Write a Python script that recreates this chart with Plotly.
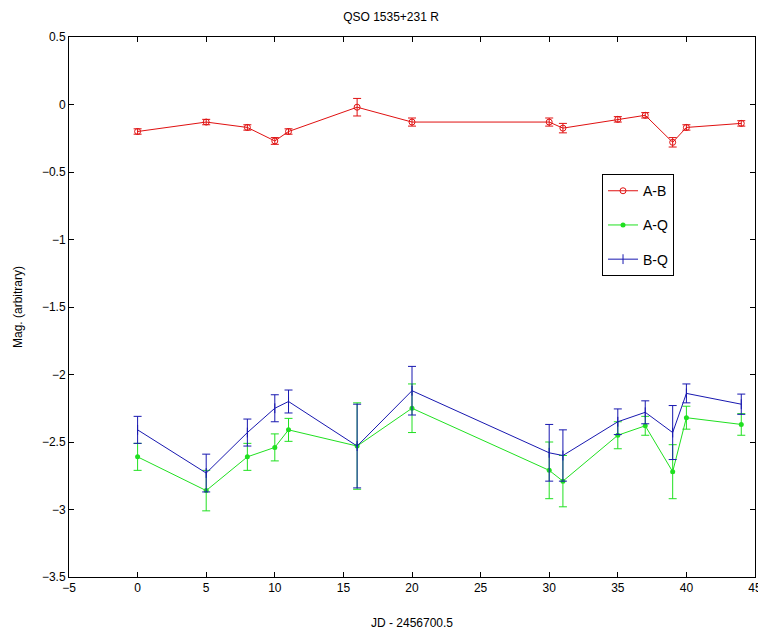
import plotly.graph_objects as go

jd = [0, 5, 8, 10, 11, 16, 20, 30, 31, 35, 37, 39, 40, 44]

ab = [-0.20, -0.13, -0.17, -0.27, -0.20, -0.02, -0.13, -0.13, -0.175, -0.11, -0.08, -0.28, -0.17, -0.14]
ab_err = [0.02, 0.02, 0.02, 0.025, 0.02, 0.065, 0.03, 0.03, 0.035, 0.02, 0.02, 0.035, 0.02, 0.02]

aq = [-2.61, -2.86, -2.61, -2.54, -2.41, -2.53, -2.25, -2.71, -2.79, -2.45, -2.38, -2.72, -2.32, -2.37]
aq_err = [0.10, 0.15, 0.10, 0.10, 0.085, 0.32, 0.18, 0.21, 0.19, 0.10, 0.07, 0.20, 0.085, 0.08]

bq = [-2.41, -2.73, -2.43, -2.25, -2.20, -2.53, -2.12, -2.58, -2.60, -2.35, -2.28, -2.43, -2.14, -2.22]
bq_err = [0.10, 0.14, 0.10, 0.10, 0.085, 0.31, 0.18, 0.21, 0.19, 0.095, 0.085, 0.20, 0.07, 0.075]

RED = "#e01010"
GREEN = "#20e020"
BLUE = "#1818b0"
FONT = "Liberation Sans, Arial, sans-serif"

fig = go.Figure()
fig.add_trace(go.Scatter(
    x=jd, y=ab, name="A-B", mode="lines+markers", legendgroup="ab",
    line=dict(color=RED, width=1),
    marker=dict(symbol="circle-open", size=6, color=RED, line=dict(width=1)),
    error_y=dict(type="data", array=ab_err, visible=True, color=RED, thickness=1, width=4),
))
fig.add_trace(go.Scatter(
    x=jd, y=aq, name="A-Q", mode="lines+markers", legendgroup="aq",
    line=dict(color=GREEN, width=1),
    marker=dict(symbol="circle", size=5, color=GREEN),
    error_y=dict(type="data", array=aq_err, visible=True, color=GREEN, thickness=1, width=4),
))
fig.add_trace(go.Scatter(
    x=jd, y=bq, name="B-Q", mode="lines+markers", legendgroup="bq",
    line=dict(color=BLUE, width=1),
    marker=dict(symbol="line-ns-open", size=7, color=BLUE, line=dict(width=1, color=BLUE)),
    error_y=dict(type="data", array=bq_err, visible=True, color=BLUE, thickness=1, width=4),
))

axis_common = dict(
    showgrid=False, zeroline=False, showline=True, linecolor="black", linewidth=1,
    mirror="ticks", ticks="inside", ticklen=5, tickcolor="black", automargin=False,
    tickfont=dict(family=FONT, size=12, color="black"),
)

fig.update_layout(
    width=766, height=634,
    margin=dict(l=61, r=19, t=29, b=65),
    paper_bgcolor="white", plot_bgcolor="white",
    title=dict(text="QSO 1535+231 R", x=0.5, xanchor="center", y=0.986, yanchor="middle",
               font=dict(family=FONT, size=12, color="black")),
    xaxis=dict(range=[-5, 45], dtick=5, tick0=0,
               title=dict(text="JD - 2456700.5", standoff=24,
                          font=dict(family=FONT, size=12, color="black")),
               **axis_common),
    yaxis=dict(range=[-3.5, 0.5], dtick=0.5, tick0=0,
               title=dict(text="Mag. (arbitrary)", standoff=16,
                          font=dict(family=FONT, size=12, color="black")),
               **axis_common),
    legend=dict(x=0.777, y=0.746, xanchor="left", yanchor="top",
                bgcolor="white", bordercolor="black", borderwidth=1,
                font=dict(family=FONT, size=14, color="black"),
                traceorder="grouped", tracegroupgap=13, entrywidth=68),
    showlegend=True,
)

fig.write_html("out.html")
